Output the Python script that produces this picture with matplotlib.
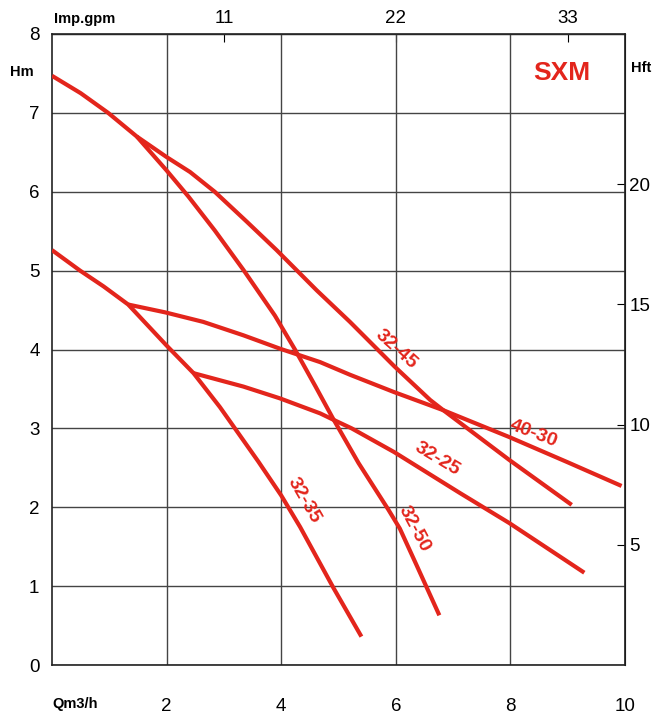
import matplotlib
matplotlib.use("Agg")
import matplotlib.pyplot as plt

plt.rcParams["font.family"] = ["Liberation Sans", "DejaVu Sans"]

RED = "#e3251c"

# pump curves, Q (m3/h) vs H (m)
q_32_50 = [0.0, 0.5, 0.98, 1.48, 2.0, 2.38, 2.84, 3.34, 3.89, 4.24, 4.60, 4.90,
           5.35, 5.87, 6.07, 6.36, 6.76]
h_32_50 = [7.47, 7.25, 7.0, 6.70, 6.27, 5.94, 5.51, 5.01, 4.43, 4.00, 3.53, 3.13,
           2.56, 1.97, 1.73, 1.27, 0.63]

q_32_45 = [1.48, 2.0, 2.41, 2.84, 3.40, 3.92, 4.62, 5.20, 5.97, 6.60, 6.83, 7.98, 9.07]
h_32_45 = [6.70, 6.44, 6.25, 6.0, 5.62, 5.26, 4.75, 4.35, 3.79, 3.36, 3.23, 2.60, 2.03]

q_32_35 = [0.0, 0.49, 0.90, 1.33, 2.0, 2.47, 2.93, 3.60, 4.0, 4.33, 4.91, 5.40]
h_32_35 = [5.26, 5.0, 4.80, 4.57, 4.05, 3.70, 3.27, 2.58, 2.15, 1.75, 0.98, 0.36]

q_40_30 = [1.33, 1.98, 2.64, 3.34, 3.98, 4.68, 5.20, 5.97, 6.83, 7.98, 9.0, 9.94]
h_40_30 = [4.57, 4.47, 4.35, 4.18, 4.01, 3.84, 3.68, 3.46, 3.23, 2.89, 2.57, 2.27]

q_32_25 = [2.47, 3.34, 3.98, 4.68, 4.88, 5.23, 5.97, 7.12, 7.98, 9.29]
h_32_25 = [3.70, 3.53, 3.38, 3.19, 3.12, 3.0, 2.70, 2.18, 1.80, 1.17]

curves = [
    ("32-50", q_32_50, h_32_50, (6.32, 1.73), -62),
    ("32-45", q_32_45, h_32_45, (6.00, 4.00), -42),
    ("32-35", q_32_35, h_32_35, (4.39, 2.09), -60),
    ("40-30", q_40_30, h_40_30, (8.41, 2.93), -21),
    ("32-25", q_32_25, h_32_25, (6.72, 2.61), -31),
]

x_ticks = [2, 4, 6, 8, 10]
y_ticks = [0, 1, 2, 3, 4, 5, 6, 7, 8]
gpm_ticks = [11, 22, 33]
ft_ticks = [5, 10, 15, 20]

GPM = 0.2728   # m3/h per Imp.gpm
FT = 3.28084   # ft per m

W, H = 653, 714
fig = plt.figure(figsize=(W / 100, H / 100), dpi=100)
ax = fig.add_axes([52 / W, 1 - 665 / H, 573 / W, 631 / H])

ax.set_xlim(0, 10)
ax.set_ylim(0, 8)
ax.set_xticks(x_ticks)
ax.set_yticks(y_ticks)
ax.grid(True, color="#444444", lw=1.0)
ax.tick_params(axis="both", length=0, labelsize=13.5)
ax.tick_params(axis="x", pad=24)
ax.tick_params(axis="y", pad=9)
for s in ax.spines.values():
    s.set_linewidth(1.2)
    s.set_color("#222222")

for name, q, h, pos, rot in curves:
    ax.plot(q, h, color=RED, lw=3.0, solid_capstyle="butt",
            solid_joinstyle="round", zorder=3)
    ax.text(pos[0], pos[1], name, color=RED, fontsize=14, fontweight="bold",
            rotation=rot, rotation_mode="anchor", ha="center", va="center", zorder=4)

top = ax.secondary_xaxis("top", functions=(lambda x: x / GPM, lambda g: g * GPM))
top.set_xticks(gpm_ticks)
top.tick_params(direction="in", length=6, labelsize=13.5, pad=5)

right = ax.secondary_yaxis("right", functions=(lambda m: m * FT, lambda f: f / FT))
right.set_yticks(ft_ticks)
right.tick_params(direction="in", length=6, labelsize=13.5, pad=3)

ax.text(8.90, 7.50, "SXM", color=RED, fontsize=19, fontweight="bold",
        ha="center", va="center")

fig.text(22 / W, 1 - 72 / H, "Hm", fontsize=10.5, fontweight="bold", ha="center", va="center")
fig.text(641 / W, 1 - 68 / H, "Hft", fontsize=10.5, fontweight="bold", ha="center", va="center")
fig.text(54 / W, 1 - 19 / H, "Imp.gpm", fontsize=10.5, fontweight="bold", ha="left", va="center")
fig.text(52 / W, 1 - 704 / H, "Qm3/h", fontsize=10.5, fontweight="bold", ha="left", va="center")

fig.savefig("out.png", dpi=100, facecolor="white")
